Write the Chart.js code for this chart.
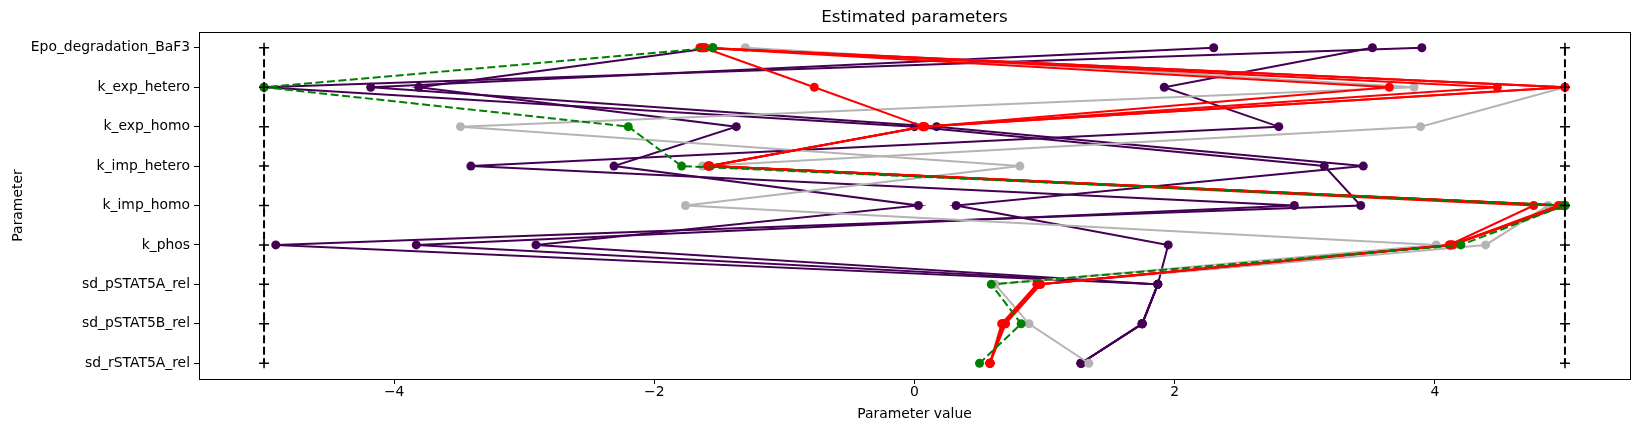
<!DOCTYPE html>
<html>
<head>
<meta charset="utf-8">
<script src="https://cdn.jsdelivr.net/npm/chart.js@4.4.1/dist/chart.umd.min.js"></script>
<style>
  body { margin: 0; background: #fff; }
  #wrap { width: 1642px; height: 432px; }
</style>
</head>
<body>
<div id="wrap"><canvas id="params"></canvas></div>
<script>
const paramNames = [
  "Epo_degradation_BaF3",
  "k_exp_hetero",
  "k_exp_homo",
  "k_imp_hetero",
  "k_imp_homo",
  "k_phos",
  "sd_pSTAT5A_rel",
  "sd_pSTAT5B_rel",
  "sd_rSTAT5A_rel",
];
const xTicks = [-4, -2, 0, 2, 4];
const lowerBounds = [-5, -5, -5, -5, -5, -5, -5, -5, -5];
const upperBounds = [5, 5, 5, 5, 5, 5, 5, 5, 5];
const chartTitle = "Estimated parameters";

// reference parameters (green dashed)
const referenceValues = [-1.55, -5.0, -2.2, -1.79, 5.0, 4.2, 0.59, 0.82, 0.5];

// best starts (red)
const redStarts = [
  [-1.63, 5.0, 0.07, -1.58, 5.0, 4.12, 0.95, 0.68, 0.58],
  [-1.65, 5.0, 0.06, -1.59, 4.95, 4.13, 0.96, 0.69, 0.58],
  [-1.61, 4.48, 0.07, -1.58, 4.76, 4.11, 0.94, 0.67, 0.58],
  [-1.64, 3.65, 0.08, -1.57, 4.98, 4.14, 0.97, 0.70, 0.58],
  [-1.62, -0.77, 0.07, -1.58, 5.0, 4.12, 0.95, 0.68, 0.58],
];

// other starts (grey)
const greyStarts = [
  [-1.3, 3.84, -3.49, 0.81, -1.76, 4.01, 0.62, 0.88, 1.34],
  [-1.6, 5.0, 3.89, -1.63, 4.87, 4.39, 0.96, 0.69, 0.58],
];

// other starts (purple)
const purpleStarts = [
  [3.52, 1.92, 2.8, -3.41, 2.92, -3.83, 1.87, 1.75, 1.28],
  [3.9, -5.0, 0.0, 3.15, 3.43, -4.91, 1.87, 1.75, 1.28],
  [2.3, -4.18, 0.17, 3.45, 0.32, 1.95, 1.87, 1.75, 1.28],
  [-1.55, -3.81, -1.37, -2.31, 0.03, -2.91, 1.87, 1.75, 1.28],
];

const toPoints = (values) => values.map((v, i) => ({ x: v, y: i }));

function startSet(values, color, order, extra) {
  return Object.assign({
    data: toPoints(values),
    showLine: true,
    borderColor: color,
    backgroundColor: color,
    borderWidth: 2,
    pointRadius: 4.5,
    pointBorderWidth: 0,
    tension: 0,
    order: order,
  }, extra || {});
}

const boundStyle = {
  showLine: true,
  borderColor: "#000",
  backgroundColor: "#000",
  borderWidth: 2,
  borderDash: [8, 3.5],
  pointStyle: "cross",
  pointRadius: 5,
  pointBorderWidth: 1.5,
  tension: 0,
  order: 0,
};

const datasets = [
  Object.assign({ data: toPoints(lowerBounds) }, boundStyle),
  Object.assign({ data: toPoints(upperBounds) }, boundStyle),
  startSet(referenceValues, "#008000", 1, { borderDash: [8, 3.5] }),
  ...redStarts.map((s) => startSet(s, "#ff0000", 2)),
  ...greyStarts.map((s) => startSet(s, "#b4b4b4", 3)),
  ...purpleStarts.map((s) => startSet(s, "#440154", 4)),
];

// axes box + title centred over the plot area (like matplotlib)
const frame = {
  id: "frame",
  afterDraw(chart) {
    const { ctx, chartArea: a } = chart;
    ctx.save();
    ctx.strokeStyle = "#000";
    ctx.lineWidth = 1;
    ctx.strokeRect(Math.round(a.left) + 0.5, Math.round(a.top) + 0.5,
      Math.round(a.right - a.left), Math.round(a.bottom - a.top));
    ctx.fillStyle = "#000";
    ctx.font = "16.7px 'DejaVu Sans'";
    ctx.textAlign = "center";
    ctx.textBaseline = "middle";
    ctx.fillText(chartTitle, (a.left + a.right) / 2, 18);
    ctx.restore();
  },
};

const font = { family: "DejaVu Sans", size: 13.9 };
const minus = (v) => (v < 0 ? "\u2212" + Math.abs(v) : String(v));

new Chart(document.getElementById("params"), {
  type: "scatter",
  data: { datasets },
  plugins: [frame],
  options: {
    responsive: true,
    maintainAspectRatio: false,
    animation: false,
    layout: { padding: { left: 0, right: 12, top: 32, bottom: 0 } },
    plugins: {
      legend: { display: false },
      tooltip: { enabled: false },
    },
    scales: {
      x: {
        type: "linear",
        min: -5.5,
        max: 5.5,
        afterBuildTicks: (s) => { s.ticks = xTicks.map((v) => ({ value: v })); },
        afterFit: (s) => { s.height = 53; },
        grid: { display: true, drawOnChartArea: false, drawTicks: true, tickLength: 5, color: "#000" },
        border: { display: true, color: "#000" },
        ticks: { color: "#000", font, padding: 0, callback: (v) => minus(v) },
        title: { display: true, text: "Parameter value", color: "#000", font, padding: { top: 2, bottom: 9 } },
      },
      y: {
        type: "linear",
        reverse: true,
        min: -0.4,
        max: 8.4,
        afterBuildTicks: (s) => { s.ticks = paramNames.map((_, i) => ({ value: i })); },
        afterFit: (s) => { s.width = 199; },
        grid: { display: true, drawOnChartArea: false, drawTicks: true, tickLength: 5, color: "#000" },
        border: { display: true, color: "#000" },
        ticks: { color: "#000", font, padding: 4, callback: (v) => paramNames[v] },
        title: { display: true, text: "Parameter", color: "#000", font, padding: { top: 10, bottom: 0 } },
      },
    },
  },
});
</script>
</body>
</html>
